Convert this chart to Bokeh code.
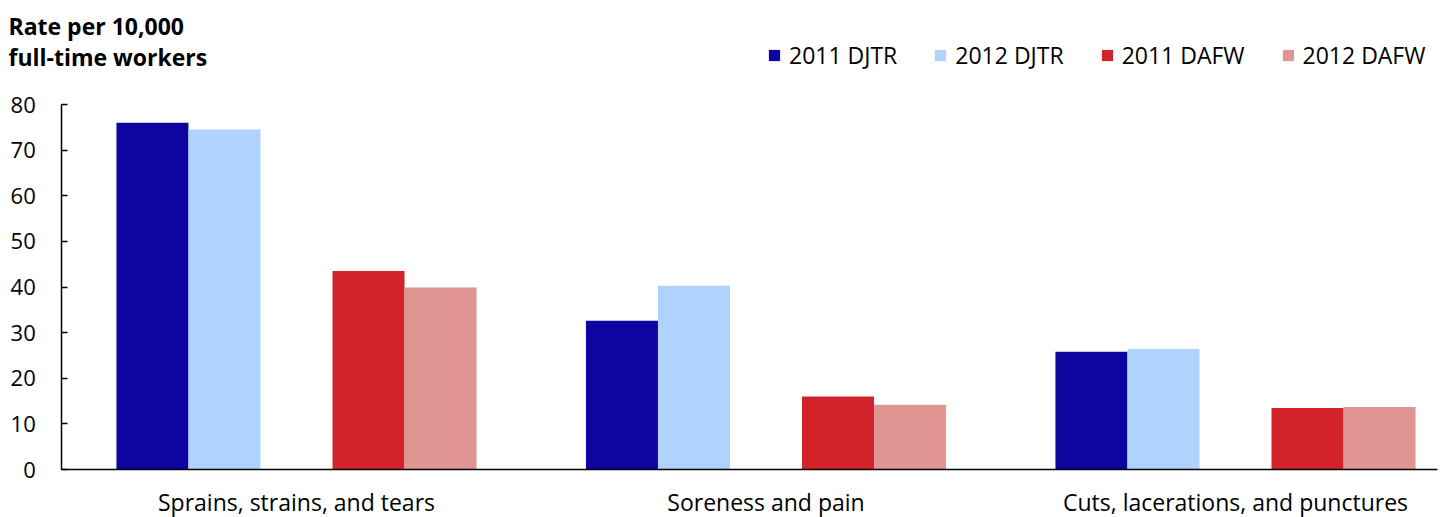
import numpy as np
from bokeh.plotting import figure
from bokeh.models import Range1d, FixedTicker, Label, Legend, LegendItem
from bokeh.embed import file_html
from bokeh.resources import INLINE

categories = ["Sprains, strains, and tears", "Soreness and pain", "Cuts, lacerations, and punctures"]
series_names = ["2011 DJTR", "2012 DJTR", "2011 DAFW", "2012 DAFW"]
djtr_2011 = [76.0, 32.6, 25.8]
djtr_2012 = [74.5, 40.3, 26.4]
dafw_2011 = [43.5, 16.0, 13.5]
dafw_2012 = [39.9, 14.2, 13.7]
y_ticks = [0, 10, 20, 30, 40, 50, 60, 70, 80]
axis_title = ["Rate per 10,000", "full-time workers"]

colors = ["#0e05a1", "#b0d2ff", "#d2232a", "#e09593"]
FONT = "Open Sans"

# pixel geometry: the frame spans the whole canvas; axes are pinned inside it
W, H = 1440, 517
CAT_PX = 469.5          # width of one category in px
AXIS_X_PX = 61.25       # where the value axis sits
AXIS_Y_PX = 469         # where the category axis sits
RIGHT_PX = 1437         # end of category axis line
PX_PER_UNIT = 365 / 80.0

x_start = -AXIS_X_PX / CAT_PX
x_end = (W - AXIS_X_PX) / CAT_PX
x_axis_end = (RIGHT_PX - AXIS_X_PX) / CAT_PX
y_end = AXIS_Y_PX / PX_PER_UNIT
y_start = -(H - AXIS_Y_PX) / PX_PER_UNIT

p = figure(width=W, height=H, output_backend="svg", toolbar_location=None,
           x_range=Range1d(x_start, x_end), y_range=Range1d(y_start, y_end),
           min_border_left=0, min_border_right=0, min_border_top=0, min_border_bottom=0)
p.outline_line_color = None
p.xgrid.grid_line_color = None
p.ygrid.grid_line_color = None
p.background_fill_color = "white"

bw = 0.1534
centers = np.arange(len(categories)) + 0.5
offsets = [-2 * bw, -bw, bw, 2 * bw]
series = [djtr_2011, djtr_2012, dafw_2011, dafw_2012]
renderers = []
for vals, off, col in zip(series, offsets, colors):
    r = p.vbar(x=centers + off, top=vals, width=bw, bottom=0, fill_color=col, line_color=None)
    renderers.append(r)

# category axis pinned at y = 0
p.xaxis.fixed_location = 0
p.xaxis.ticker = FixedTicker(ticks=list(centers))
p.xaxis.major_label_overrides = {float(c): lab for c, lab in zip(centers, categories)}
p.xaxis.bounds = (0, x_axis_end)
p.xaxis.major_tick_line_color = None
p.xaxis.major_tick_out = 0
p.xaxis.major_tick_in = 0
p.xaxis.minor_tick_line_color = None
p.xaxis.axis_line_color = "black"
p.xaxis.axis_line_width = 1.5
p.xaxis.major_label_text_font = FONT
p.xaxis.major_label_text_font_size = "23px"
p.xaxis.major_label_text_color = "black"
p.xaxis.major_label_standoff = 16

# value axis pinned at x = 0
p.yaxis.fixed_location = 0
p.yaxis.bounds = (0, 80)
p.yaxis.ticker = FixedTicker(ticks=y_ticks)
p.yaxis.major_tick_in = 6
p.yaxis.major_tick_out = 0
p.yaxis.minor_tick_line_color = None
p.yaxis.axis_line_color = "black"
p.yaxis.axis_line_width = 1.5
p.yaxis.major_tick_line_width = 1.5
p.yaxis.major_label_text_font = FONT
p.yaxis.major_label_text_font_size = "22px"
p.yaxis.major_label_text_color = "black"
p.yaxis.major_label_standoff = 26

# axis title (two lines, top-left)
title_x = (8 - AXIS_X_PX) / CAT_PX
for txt, base_px in zip(axis_title, [25, 56]):
    p.add_layout(Label(x=title_x, y=(AXIS_Y_PX - base_px) / PX_PER_UNIT, text=txt,
                       text_font=FONT, text_font_style="bold", text_font_size="23px",
                       text_color="black", text_baseline="alphabetic", text_align="left"))

legend = Legend(items=[LegendItem(label=n, renderers=[r]) for n, r in zip(series_names, renderers)],
                orientation="horizontal", location=(767, 446),
                glyph_width=14, glyph_height=14, label_standoff=8, spacing=36,
                label_text_font=FONT, label_text_font_size="23px", label_text_color="black",
                padding=0, margin=0, border_line_color=None, background_fill_alpha=0)
p.add_layout(legend)

open("out.html", "w").write(file_html(p, INLINE))
